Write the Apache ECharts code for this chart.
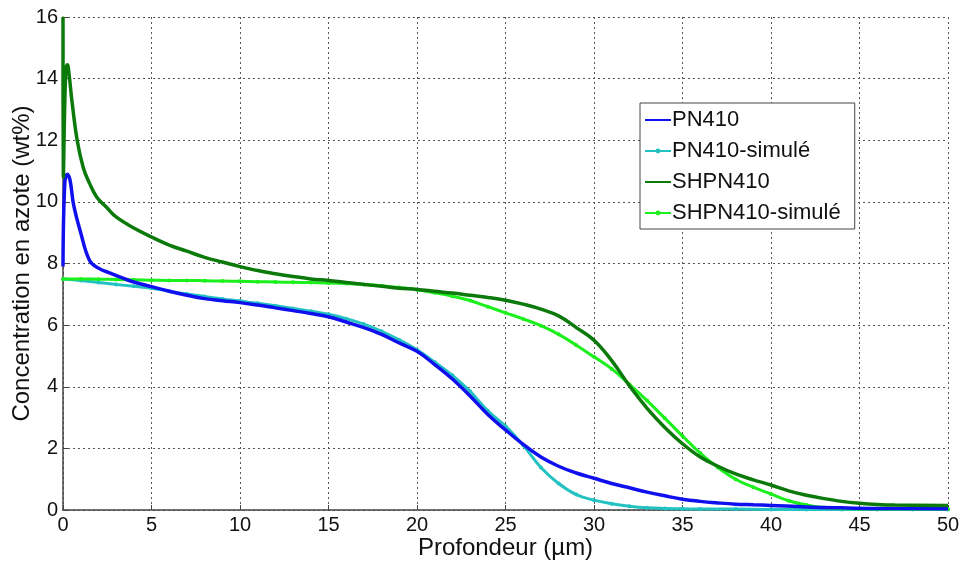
<!DOCTYPE html>
<html><head><meta charset="utf-8">
<script src="https://cdn.jsdelivr.net/npm/echarts@6/dist/echarts.min.js"></script>
<style>html,body{margin:0;padding:0;background:#fff}#c{width:959px;height:562px}</style>
</head><body><div id="c"></div>
<script>
// Measured PN410 (blue)
const pn410 = [[0,7.9],[0.1,10.6],[0.25,10.9],[0.4,10.7],[0.6,9.9],[1.0,9.0],[1.5,8.1],[2,7.85],[2.7,7.68],[3.5,7.5],[4,7.4],[5,7.25],[6,7.1],[7,6.97],[8,6.86],[9,6.79],[10,6.73],[11,6.65],[12,6.56],[13,6.47],[14,6.38],[15,6.27],[16,6.1],[17,5.92],[18,5.7],[19,5.42],[20,5.15],[21,4.72],[22,4.25],[23,3.7],[24,3.1],[25,2.6],[26,2.13],[27,1.72],[28,1.42],[29,1.2],[30,1.03],[31,0.86],[32,0.72],[33,0.58],[34,0.46],[35,0.35],[36,0.28],[37,0.23],[38,0.19],[39,0.17],[40,0.15],[42,0.1],[44,0.07],[46,0.05],[50,0.04]];
// Simulated PN410 (cyan)
const pn410Sim = [[0,7.5],[1,7.45],[2,7.38],[3,7.32],[4,7.26],[5,7.2],[6,7.1],[7,7.01],[8,6.93],[9,6.85],[10,6.78],[11,6.71],[12,6.63],[13,6.54],[14,6.45],[15,6.35],[16,6.21],[17,6.03],[18,5.8],[19,5.52],[20,5.2],[21,4.8],[22,4.37],[23,3.85],[24,3.22],[25,2.72],[26,2.1],[27,1.38],[28,0.86],[29,0.5],[30,0.32],[31,0.2],[32,0.12],[33,0.07],[34,0.05],[35,0.04],[36,0.03],[38,0.03],[40,0.02],[42,0.02],[44,0.02],[46,0.02],[48,0.02],[50,0.02]];
// Measured SHPN410 (dark green)
const shpn410 = [[0,16],[0.02,10.8],[0.15,14.2],[0.25,14.45],[0.35,14.1],[0.5,13.3],[0.8,12.0],[1.15,11.1],[1.5,10.6],[1.9,10.16],[2.5,9.8],[3,9.51],[4,9.15],[5,8.86],[6,8.6],[7,8.4],[8,8.2],[9,8.05],[10,7.9],[11,7.77],[12,7.67],[13,7.58],[14,7.5],[15,7.45],[16,7.38],[17,7.32],[18,7.26],[19,7.2],[20,7.16],[21,7.1],[22,7.04],[23,6.97],[24,6.9],[25,6.81],[26,6.68],[27,6.52],[28,6.3],[29,5.92],[30,5.51],[31,4.85],[32,4.03],[33,3.3],[34,2.68],[35,2.15],[36,1.72],[37,1.42],[38,1.17],[39,0.98],[40,0.81],[41,0.62],[42,0.48],[43,0.37],[44,0.28],[45,0.22],[46,0.18],[47,0.16],[50,0.15]];
// Simulated SHPN410 (bright green)
const shpn410Sim = [[0,7.5],[1,7.5],[2,7.49],[3,7.48],[4,7.47],[5,7.46],[6,7.45],[7,7.45],[8,7.44],[9,7.43],[10,7.42],[11,7.41],[12,7.4],[13,7.39],[14,7.38],[15,7.37],[16,7.35],[17,7.32],[18,7.28],[19,7.22],[20,7.15],[21,7.05],[22,6.94],[23,6.8],[24,6.6],[25,6.4],[26,6.2],[27,5.98],[28,5.7],[29,5.35],[30,4.97],[31,4.58],[32,4.08],[33,3.55],[34,2.98],[35,2.4],[36,1.85],[37,1.38],[38,1.0],[39,0.74],[40,0.52],[41,0.3],[42,0.16],[43,0.08],[44,0.05],[45,0.04],[46,0.03],[48,0.03],[50,0.03]];

const seriesNames = ['PN410','PN410-simulé','SHPN410','SHPN410-simulé'];
const xTitle = 'Profondeur (µm)';
const yTitle = 'Concentration en azote (wt%)';

const chart = echarts.init(document.getElementById('c'));
const font = 'Liberation Sans, Arial, sans-serif';
const gridLine = {show:true, lineStyle:{color:'#555', type:[2,3], width:1}};
chart.setOption({
  animation:false,
  backgroundColor:'#fff',
  grid:{left:63, top:17, right:11, bottom:52, containLabel:false, outerBoundsMode:'none'},
  xAxis:{type:'value', min:0, max:50, interval:5,
    name:xTitle, nameLocation:'middle', nameGap:26, nameMoveOverlap:false,
    nameTextStyle:{fontFamily:font, fontSize:24, color:'#111'},
    axisLine:{show:true, onZero:false, lineStyle:{color:'#444', width:1.5}},
    axisTick:{show:true, inside:true, length:5, lineStyle:{color:'#444'}},
    axisLabel:{fontFamily:font, fontSize:20, color:'#111', margin:5},
    splitLine:gridLine},
  yAxis:{type:'value', min:0, max:16, interval:2,
    name:yTitle, nameLocation:'middle', nameGap:29, nameRotate:90, nameMoveOverlap:false,
    nameTextStyle:{fontFamily:font, fontSize:24, color:'#111'},
    axisLine:{show:true, lineStyle:{color:'#444', width:1.5}},
    axisTick:{show:true, inside:true, length:5, lineStyle:{color:'#444'}},
    axisLabel:{fontFamily:font, fontSize:20, color:'#111', margin:5},
    splitLine:gridLine},
  legend:{orient:'vertical', left:640, top:103,
    data:[{name:seriesNames[0], itemStyle:{opacity:0}}, seriesNames[1], {name:seriesNames[2], itemStyle:{opacity:0}}, seriesNames[3]],
    backgroundColor:'#fff', borderColor:'#444', borderWidth:1,
    padding:[6,14,5,4], itemGap:9, itemWidth:26, itemHeight:6,
    textStyle:{fontFamily:font, fontSize:22, color:'#111', padding:[0,0,0,-4], lineHeight:22}},
  series:[
    {name:seriesNames[0], type:'line', data:pn410, symbol:'none', smooth:0.4,
      lineStyle:{color:'#1010ee', width:3.5}, itemStyle:{color:'#1010ee'}, z:3},
    {name:seriesNames[1], type:'line', data:pn410Sim, symbol:'circle', symbolSize:4, smooth:0.4,
      lineStyle:{color:'#22c2c2', width:3}, itemStyle:{color:'#22c2c2'}, z:2},
    {name:seriesNames[2], type:'line', data:shpn410, symbol:'none', smooth:0.4,
      lineStyle:{color:'#0b7a0b', width:3.5}, itemStyle:{color:'#0b7a0b'}, z:3},
    {name:seriesNames[3], type:'line', data:shpn410Sim, symbol:'circle', symbolSize:4, smooth:0.4,
      lineStyle:{color:'#1cf01c', width:3}, itemStyle:{color:'#1cf01c'}, z:2}
  ]
});
</script></body></html>
